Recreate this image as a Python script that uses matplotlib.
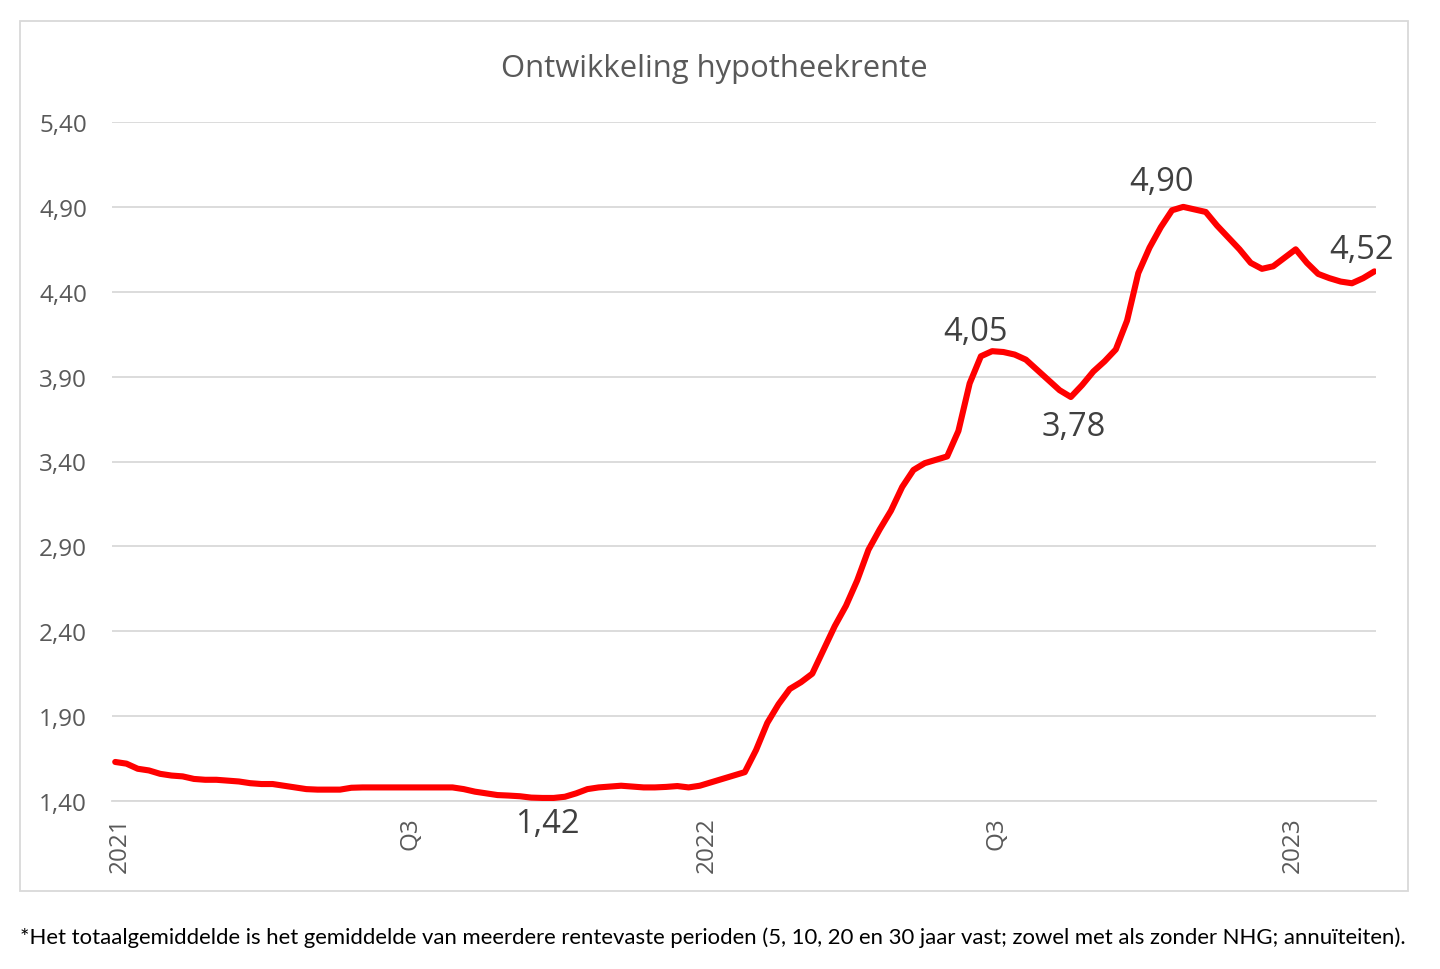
import matplotlib
matplotlib.use("Agg")
import matplotlib.pyplot as plt
import matplotlib.dates as mdates
from matplotlib.patches import Rectangle
import pandas as pd

# ---- data (weekly average mortgage rate) ----
start_date = "2020-12-29"
rates = [
    1.63, 1.62, 1.59, 1.58, 1.56, 1.55, 1.545, 1.53, 1.525, 1.525,
    1.52, 1.515, 1.505, 1.50, 1.50, 1.49, 1.48, 1.47, 1.467, 1.467,
    1.467, 1.478, 1.48, 1.48, 1.48, 1.48, 1.48, 1.48, 1.48, 1.48,
    1.48, 1.47, 1.455, 1.445, 1.435, 1.432, 1.428, 1.42, 1.418, 1.418,
    1.425, 1.445, 1.47, 1.48, 1.485, 1.49, 1.485, 1.48, 1.48, 1.483,
    1.488, 1.48, 1.49, 1.51, 1.53, 1.55, 1.57, 1.70, 1.86, 1.97,
    2.06, 2.10, 2.15, 2.29, 2.43, 2.55, 2.70, 2.88, 3.00, 3.11,
    3.25, 3.35, 3.39, 3.41, 3.43, 3.58, 3.86, 4.02, 4.05, 4.045,
    4.03, 4.00, 3.94, 3.88, 3.82, 3.78, 3.85, 3.93, 3.99, 4.06,
    4.23, 4.51, 4.66, 4.78, 4.88, 4.90, 4.885, 4.87, 4.79, 4.72,
    4.65, 4.57, 4.535, 4.55, 4.60, 4.65, 4.57, 4.505, 4.48, 4.46,
    4.45, 4.48, 4.52,
]
tick_dates = ["2021-01-01", "2021-07-01", "2022-01-01", "2022-07-01", "2023-01-01"]
tick_labels = ["2021", "Q3", "2022", "Q3", "2023"]
y_ticks = [1.40, 1.90, 2.40, 2.90, 3.40, 3.90, 4.40, 4.90, 5.40]
# (index in series, label text, label offset in pixels)
labels_idx = [38, 78, 85, 95, 112]
labels_txt = ["1,42", "4,05", "3,78", "4,90", "4,52"]
labels_off = [(5, -26), (-17, 20), (3, -30), (-22, 25), (-13, 22)]

title = "Ontwikkeling hypotheekrente"
footnote = ("*Het totaalgemiddelde is het gemiddelde van meerdere rentevaste perioden "
            "(5, 10, 20 en 30 jaar vast; zowel met als zonder NHG; annuïteiten).")

dates = pd.date_range(start=start_date, periods=len(rates), freq="7D")

W, H = 1440, 970
fig = plt.figure(figsize=(W / 100, H / 100), dpi=100)
fig.patch.set_facecolor("white")

ax = fig.add_axes([112 / W, 1 - 802 / H, (1376 - 112) / W, (802 - 123) / H])
ax.plot(dates, rates, color="#FF0000", lw=4.4, solid_joinstyle="round",
        solid_capstyle="round", zorder=3)

ax.set_ylim(1.40, 5.40)
ax.set_yticks(y_ticks)
ax.set_yticklabels([f"{v:.2f}".replace(".", ",") for v in y_ticks])
ax.set_xlim(dates[0] - pd.Timedelta(days=2), dates[-1] + pd.Timedelta(days=1))
ax.set_xticks(pd.to_datetime(tick_dates))
ax.set_xticklabels(tick_labels, rotation=90, va="top", ha="center")

grid_c = "#D9D9D9"
ax.grid(axis="y", color=grid_c, lw=1.3, zorder=0)
for s in ["top", "right", "left"]:
    ax.spines[s].set_visible(False)
ax.spines["bottom"].set_color(grid_c)
ax.spines["bottom"].set_linewidth(1.3)
ax.tick_params(axis="both", length=0, labelcolor="#595959", labelsize=17.5)
ax.tick_params(axis="y", pad=18)
ax.tick_params(axis="x", pad=11)
for t in ax.get_xticklabels() + ax.get_yticklabels():
    t.set_fontfamily("Open Sans")

for i, txt, off in zip(labels_idx, labels_txt, labels_off):
    ax.annotate(txt, xy=(dates[i], rates[i]), xytext=off, textcoords="offset pixels",
                ha="center", va="center", fontsize=23.5, color="#404040",
                fontfamily="Open Sans", zorder=4)

fig.text(714 / W, 1 - 69 / H, title, ha="center", va="center", fontsize=22.3,
         color="#595959", fontfamily="Open Sans")
fig.text(20 / W, 1 - 938 / H, footnote, ha="left", va="center", fontsize=15.9,
         color="#000000", fontfamily="Lato")

fig.patches.append(Rectangle((20 / W, 1 - 892 / H), (1408 - 20) / W, (892 - 22) / H,
                             transform=fig.transFigure, fill=False,
                             edgecolor=grid_c, lw=1.3))

fig.savefig("out.png", dpi=100)
